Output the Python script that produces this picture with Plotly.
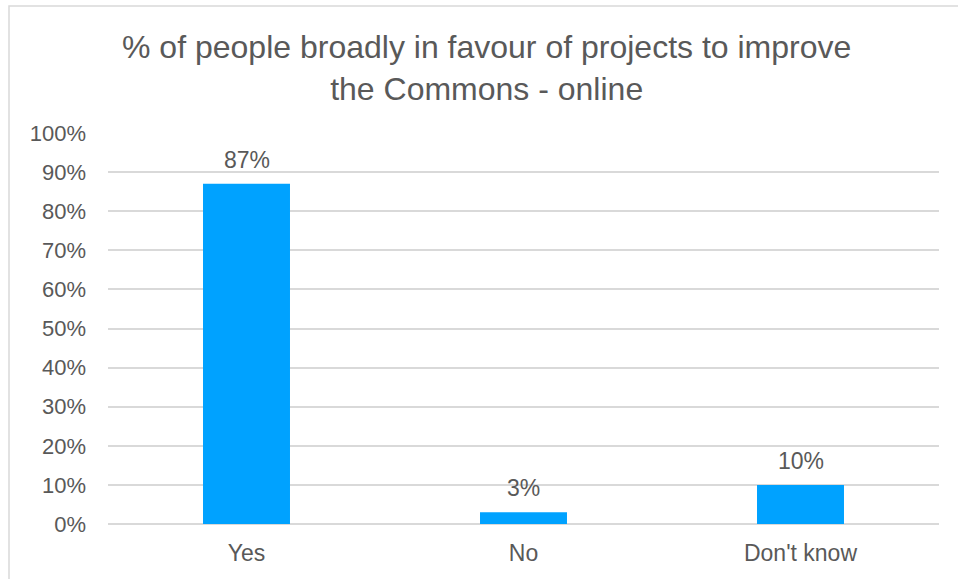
import plotly.graph_objects as go

# Survey responses
categories = ["Yes", "No", "Don't know"]
shares = [87, 3, 10]
tick_values = list(range(0, 101, 10))
tick_labels = [f"{v}%" for v in tick_values]

TEXT = "#595959"
GRID = "#d9d9d9"
FONT = "Liberation Sans, Arial, sans-serif"

fig = go.Figure(
    go.Bar(
        x=categories,
        y=shares,
        marker=dict(color="#00a2ff", line=dict(width=0)),
        hoverinfo="skip",
    )
)

# Value labels above each bar
for cat, val in zip(categories, shares):
    fig.add_annotation(
        x=cat,
        y=val,
        text=f"{val}%",
        showarrow=False,
        yanchor="bottom",
        yshift=9,
        font=dict(size=23, color=TEXT, family=FONT),
    )

fig.update_layout(
    width=958,
    height=579,
    margin=dict(l=108, r=19, t=133, b=55),
    paper_bgcolor="white",
    plot_bgcolor="white",
    bargap=0.686,
    showlegend=False,
    font=dict(family=FONT, color=TEXT, size=23),
    title=dict(
        text="% of people broadly in favour of projects to improve<br>the Commons - online",
        x=0.508,
        xanchor="center",
        xref="container",
        y=0.9,
        yanchor="middle",
        font=dict(size=32, color=TEXT, family=FONT),
    ),
    xaxis=dict(
        showgrid=False,
        showline=False,
        ticks="",
        ticklabelstandoff=13,
        tickfont=dict(size=23, color=TEXT),
    ),
    yaxis=dict(
        range=[0, 100],
        tickvals=tick_values,
        ticktext=tick_labels,
        showgrid=True,
        gridcolor=GRID,
        gridwidth=1.5,
        zeroline=True,
        zerolinecolor=GRID,
        zerolinewidth=1.5,
        showline=False,
        ticks="",
        ticklabelstandoff=21,
        tickfont=dict(size=22, color=TEXT),
    ),
    shapes=[
        dict(
            type="rect",
            xref="paper",
            yref="paper",
            x0=(9 - 108) / 831,
            x1=(960 - 108) / 831,
            y0=(524 - 582) / 391,
            y1=(524 - 6) / 391,
            line=dict(color=GRID, width=1.5),
            fillcolor="rgba(0,0,0,0)",
            layer="below",
        )
    ],
)

fig.write_html("out.html")
